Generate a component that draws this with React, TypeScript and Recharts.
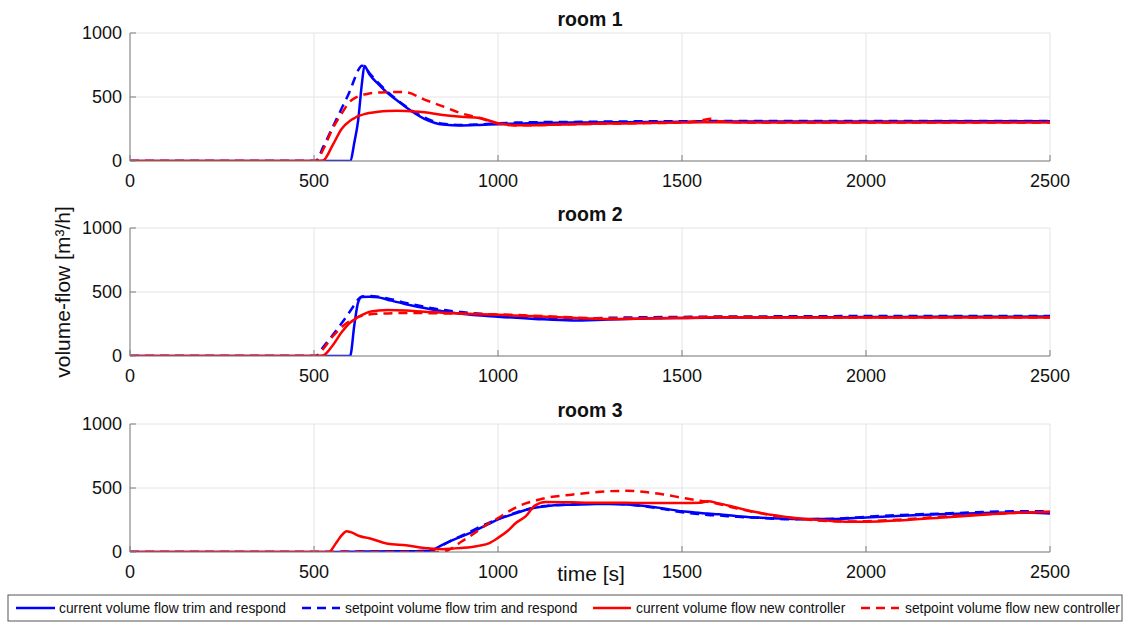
import { LineChart, Line, XAxis, YAxis, CartesianGrid } from 'recharts';

// time axis ticks / value axis ticks
const X_TICKS = [0, 500, 1000, 1500, 2000, 2500];
const Y_TICKS = [0, 500, 1000];

// room 1
const T1 = [0, 500, 505, 525, 550, 575, 598, 610, 620, 630, 637, 650, 675, 700, 725, 750, 800, 850, 900, 950, 1000, 1050, 1100, 1200, 1300, 1400, 1500, 1550, 1580, 1600, 1700, 1800, 2000, 2200, 2500];
const CUR_TR_1 = [0, 0, 0, 0, 0, 0, 0, 150, 318, 600, 742, 680, 600, 530, 475, 420, 330, 285, 278, 282, 288, 292, 296, 300, 302, 304, 306, 307, 307, 308, 308, 309, 309, 310, 310];
const SET_TR_1 = [0, 0, 0, 110, 260, 410, 550, 640, 709, 745, 740, 690, 610, 540, 480, 425, 340, 292, 282, 286, 294, 300, 303, 305, 308, 310, 310, 311, 312, 312, 312, 312, 312, 312, 312];
const CUR_NC_1 = [0, 0, 0, 5, 120, 250, 315, 335, 350, 360, 366, 375, 385, 390, 392, 391, 380, 360, 345, 336, 295, 280, 280, 288, 292, 296, 300, 302, 303, 302, 300, 300, 300, 300, 300];
const SET_NC_1 = [0, 0, 0, 90, 250, 370, 465, 490, 505, 515, 520, 528, 535, 538, 540, 537, 480, 427, 373, 336, 292, 278, 280, 287, 292, 296, 300, 315, 330, 310, 300, 300, 300, 300, 300];

// room 2
const T2 = [0, 500, 505, 525, 550, 575, 598, 610, 620, 630, 650, 675, 700, 750, 800, 850, 900, 1000, 1100, 1200, 1300, 1400, 1500, 1600, 1800, 2000, 2200, 2500];
const CUR_TR_2 = [0, 0, 0, 0, 0, 0, 0, 250, 420, 460, 462, 458, 440, 405, 375, 350, 330, 307, 290, 278, 285, 292, 297, 300, 302, 304, 306, 308];
const SET_TR_2 = [0, 0, 0, 70, 160, 255, 350, 400, 443, 465, 468, 462, 450, 415, 385, 360, 343, 318, 300, 290, 298, 303, 305, 308, 310, 312, 312, 312];
const CUR_NC_2 = [0, 0, 0, 5, 80, 185, 260, 285, 305, 320, 345, 355, 359, 355, 345, 338, 332, 322, 310, 298, 290, 293, 297, 302, 300, 300, 300, 300];
const SET_NC_2 = [0, 0, 0, 55, 150, 225, 275, 290, 305, 315, 325, 330, 333, 336, 335, 333, 330, 325, 315, 302, 293, 296, 300, 305, 302, 300, 300, 300];

// room 3
const T3 = [0, 500, 540, 560, 575, 589, 600, 625, 650, 700, 750, 800, 815, 850, 880, 900, 925, 950, 975, 1000, 1025, 1050, 1075, 1100, 1130, 1200, 1250, 1300, 1350, 1400, 1450, 1500, 1550, 1570, 1600, 1650, 1700, 1800, 1900, 1950, 2000, 2100, 2200, 2300, 2400, 2500];
const CUR_TR_3 = [0, 0, 0, 0, 1, 2, 2, 3, 4, 5, 6, 8, 10, 58, 97, 120, 150, 185, 220, 255, 280, 305, 328, 345, 358, 370, 374, 375, 372, 360, 340, 318, 305, 300, 295, 280, 270, 258, 258, 262, 270, 283, 295, 303, 308, 300];
const SET_TR_3 = [0, 0, 0, 0, 1, 2, 2, 3, 4, 5, 6, 8, 10, 55, 100, 125, 160, 195, 228, 258, 285, 310, 330, 348, 360, 372, 378, 378, 372, 355, 335, 310, 295, 290, 285, 275, 268, 256, 258, 265, 275, 290, 300, 310, 318, 318];
const CUR_NC_3 = [0, 0, 0, 70, 130, 162, 155, 123, 108, 65, 52, 31, 28, 22, 28, 32, 38, 50, 68, 110, 162, 230, 278, 362, 390, 388, 385, 385, 384, 383, 383, 383, 385, 396, 380, 345, 312, 268, 245, 236, 236, 248, 268, 288, 305, 312];
const SET_NC_3 = [0, 0, 0, 0, 0, 0, 0, 0, 0, 0, 0, 0, 0, 0, 40, 80, 125, 175, 225, 265, 310, 350, 380, 400, 422, 448, 463, 475, 478, 468, 450, 424, 400, 392, 375, 340, 310, 265, 242, 238, 240, 255, 275, 292, 305, 315];

const LEGEND = [
    { name: 'current volume flow trim and respond', color: '#0000ff', dash: undefined },
    { name: 'setpoint volume flow trim and respond', color: '#0000ff', dash: '9 6' },
    { name: 'current volume flow new controller', color: '#ff0000', dash: undefined },
    { name: 'setpoint volume flow new controller', color: '#ff0000', dash: '9 6' },
];

const FONT = '"Liberation Sans", Arial, Helvetica, sans-serif';
const BLUE = '#0000ff';
const RED = '#ff0000';
const AXIS = '#7f7f7f';

function buildRows(t: number[], a: number[], b: number[], c: number[], d: number[]) {
    return t.map((time, i) => ({ t: time, curTR: a[i], setTR: b[i], curNC: c[i], setNC: d[i] }));
}

const ROOMS = [
    { title: 'room 1', top: 0, rows: buildRows(T1, CUR_TR_1, SET_TR_1, CUR_NC_1, SET_NC_1) },
    { title: 'room 2', top: 195, rows: buildRows(T2, CUR_TR_2, SET_TR_2, CUR_NC_2, SET_NC_2) },
    { title: 'room 3', top: 391, rows: buildRows(T3, CUR_TR_3, SET_TR_3, CUR_NC_3, SET_NC_3) },
];

const PLOT_TOP = 33;

// x tick with a short inward tick mark, MATLAB style
const XTick = (props: any) => {
    const { x, y, payload } = props;
    const axisY = y - 13;
    return (
        <g>
            <line x1={x} x2={x} y1={axisY} y2={axisY - 6} stroke={AXIS} strokeWidth={1} />
            <text x={x} y={y} dy="0.71em" textAnchor="middle" fontSize={18} fill="#111" fontFamily={FONT}>
                {payload.value}
            </text>
        </g>
    );
};

const YTick = (props: any) => {
    const { x, y, payload } = props;
    const axisX = x + 8;
    return (
        <g>
            <line x1={axisX} x2={axisX + 6} y1={y} y2={y} stroke={AXIS} strokeWidth={1} />
            <text x={x} y={y} dy="0.355em" textAnchor="end" fontSize={18} fill="#111" fontFamily={FONT}>
                {payload.value}
            </text>
        </g>
    );
};

function RoomChart({ rows }: { rows: any[] }) {
    return (
        <LineChart width={1126} height={191} data={rows} margin={{ top: PLOT_TOP, right: 76, bottom: 0, left: 70 }}>
            <CartesianGrid stroke="#e4e4e4" strokeWidth={1} />
            <XAxis
                type="number"
                dataKey="t"
                domain={[0, 2500]}
                ticks={X_TICKS}
                height={30}
                tickSize={0}
                tickMargin={13}
                axisLine={{ stroke: AXIS }}
                tick={<XTick />}
                allowDataOverflow
            />
            <YAxis
                type="number"
                domain={[0, 1000]}
                ticks={Y_TICKS}
                width={60}
                tickSize={0}
                tickMargin={8}
                axisLine={{ stroke: AXIS }}
                tick={<YTick />}
                allowDataOverflow
            />
            <Line type="monotone" dataKey="curTR" stroke={BLUE} strokeWidth={2.5} dot={false} isAnimationActive={false} />
            <Line type="monotone" dataKey="setTR" stroke={BLUE} strokeWidth={2.5} strokeDasharray="9 6" dot={false} isAnimationActive={false} />
            <Line type="monotone" dataKey="curNC" stroke={RED} strokeWidth={2.5} dot={false} isAnimationActive={false} />
            <Line type="monotone" dataKey="setNC" stroke={RED} strokeWidth={2.5} strokeDasharray="9 6" dot={false} isAnimationActive={false} />
        </LineChart>
    );
}

// legend slot positions: line start, line end, text start
const LEGEND_POS = [
    [16, 55, 59],
    [302, 340, 345],
    [593, 631, 636],
    [861, 899, 905],
];

export default function App() {
    return (
        <div style={{ position: 'absolute', left: 0, top: 0, width: 1126, height: 623, background: '#fff', fontFamily: FONT }}>
            {ROOMS.map((room) => (
                <div key={room.title} style={{ position: 'absolute', left: 0, top: room.top }}>
                    <RoomChart rows={room.rows} />
                </div>
            ))}
            <svg width={1126} height={623} style={{ position: 'absolute', left: 0, top: 0, pointerEvents: 'none' }}>
                {ROOMS.map((room) => (
                    <text key={room.title} x={590} y={room.top + PLOT_TOP - 7} textAnchor="middle" fontSize={19.5} fontWeight="bold" fill="#111" fontFamily={FONT}>
                        {room.title}
                    </text>
                ))}
                <text x={591} y={581} textAnchor="middle" fontSize={21} fill="#111" fontFamily={FONT}>
                    time [s]
                </text>
                <text x={63} y={292} dy="0.35em" textAnchor="middle" fontSize={21} fill="#111" fontFamily={FONT} transform="rotate(-90, 63, 292)">
                    volume-flow [m³/h]
                </text>
                <rect x={8} y={595} width={1114} height={26} fill="#fff" stroke="#555" strokeWidth={1} />
                {LEGEND.map((item, i) => {
                    const [x1, x2, tx] = LEGEND_POS[i];
                    return (
                        <g key={item.name}>
                            <line x1={x1} x2={x2} y1={608} y2={608} stroke={item.color} strokeWidth={2.5} strokeDasharray={item.dash} />
                            <text x={tx} y={613} fontSize={13.8} fill="#111" fontFamily={FONT}>
                                {item.name}
                            </text>
                        </g>
                    );
                })}
            </svg>
        </div>
    );
}
